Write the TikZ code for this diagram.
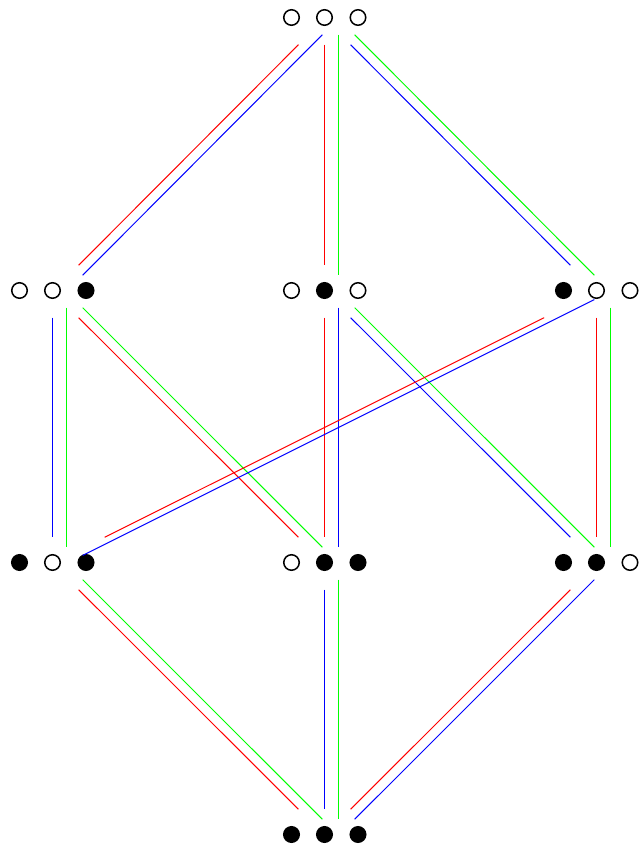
\documentclass[tikz,border=0pt]{standalone}
\newcommand\mystate[6]{%
  \node[hub] (#1) at (#2,#3+1) {};
  \node[sub] (#1o) at (#2+14,#3+1) {};
  \node[#4] (#1a) at (#2-33,#3) {};
  \node[#5] (#1b) at (#2,#3) {};
  \node[#6] (#1c) at (#2+33.5,#3) {};
}
\newcommand\myedge[4]{%
  \draw[wire,#3] (#1) -- (#2);
  \draw[wire,#4] (#1o) -- (#2o);
}
\begin{document}
\begin{tikzpicture}[x=1pt,y=-1pt,
  dot/.style={circle,draw,line width=1.5pt,minimum size=15.5pt,inner sep=0pt},
  emp/.style={dot,fill=white},
  ful/.style={dot,fill=black},
  hub/.style={rectangle,minimum width=110pt,minimum height=52pt,inner sep=0pt},
  sub/.style={rectangle,minimum width=32pt,minimum height=32pt,inner sep=0pt},
  wire/.style={line width=1pt}]
\useasboundingbox (-0.5,-0.5) rectangle (640.5,847.5);
\mystate{s000}{324}{17}{emp}{emp}{emp}
\mystate{s001}{52}{290}{emp}{emp}{ful}
\mystate{s010}{324}{290}{emp}{ful}{emp}
\mystate{s100}{596}{290}{ful}{emp}{emp}
\mystate{s101}{52}{562}{ful}{emp}{ful}
\mystate{s011}{324}{562}{emp}{ful}{ful}
\mystate{s110}{596}{562}{ful}{ful}{emp}
\mystate{s111}{324}{834}{ful}{ful}{ful}
\myedge{s000}{s001}{red}{blue}
\myedge{s000}{s010}{red}{green}
\myedge{s000}{s100}{blue}{green}
\myedge{s001}{s101}{blue}{green}
\myedge{s001}{s011}{red}{green}
\myedge{s010}{s011}{red}{blue}
\myedge{s010}{s110}{blue}{green}
\myedge{s100}{s110}{red}{green}
\myedge{s100}{s101}{red}{blue}
\myedge{s101}{s111}{red}{green}
\myedge{s011}{s111}{blue}{green}
\myedge{s110}{s111}{red}{blue}
\end{tikzpicture}
\end{document}
